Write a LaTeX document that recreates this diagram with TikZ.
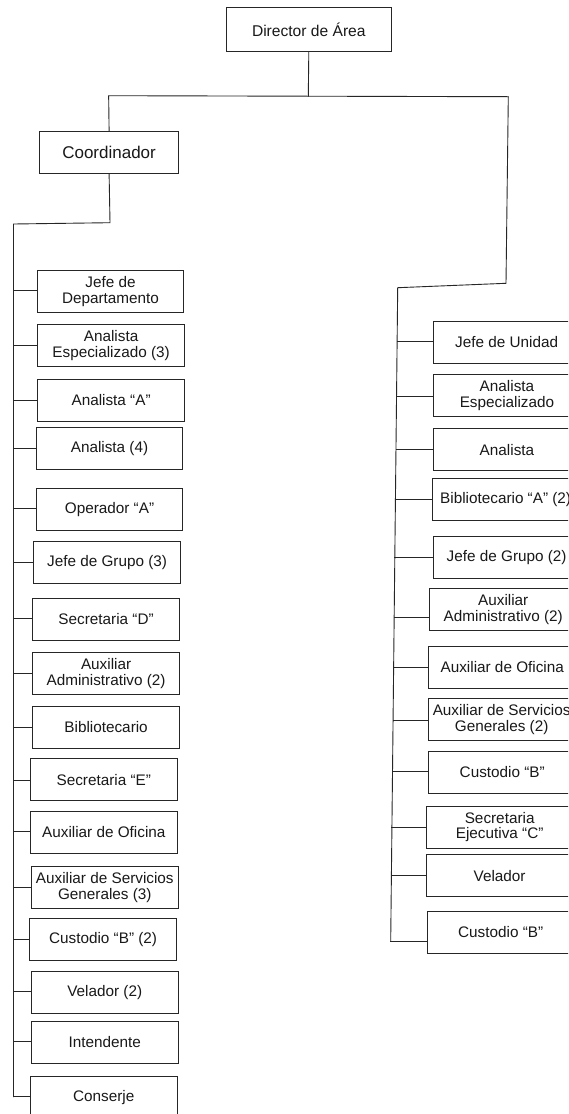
\documentclass[tikz,border=0pt]{standalone}
\usepackage{fontspec}
\setmainfont{Liberation Sans}
\usetikzlibrary{calc}
\tikzset{
  post/.style={draw=black!85, line width=0.9pt, fill=white,
    minimum width=146.7pt, minimum height=42pt, inner sep=0pt,
    anchor=north west, align=center, text=black!90,
    font=\fontsize{15.3}{15.5}\selectfont},
  link/.style={draw=black!85, line width=0.9pt, line cap=rect, line join=miter},
}
\begin{document}
\begin{tikzpicture}[x=1pt,y=-1pt]
\clip (0,0) rectangle (568,1114);
\fill[white] (0,0) rectangle (568,1114);

% top levels
\node[post, minimum width=165.3pt, minimum height=43.4pt,
      font=\fontsize{15.6}{16}\selectfont] (dir) at (225.7,7.3) {Director de Área};
\node[post, minimum width=139.3pt, minimum height=42pt,
      font=\fontsize{17}{18}\selectfont] (cdr) at (39,130.7) {Coordinador};

% left column of posts
\foreach \n/\x/\t/\c/\txt in {
  1/36.7/270/290.7/{Jefe de\\Departamento},
  2/37.3/324.3/345/{Analista\\Especializado (3)},
  3/37.3/379/400.3/{Analista “A”},
  4/35.7/426.7/448.3/{Analista (4)},
  5/35.7/487.7/508.3/{Operador “A”},
  6/33.3/541/562.5/{Jefe de Grupo (3)},
  7/32.3/597.7/618.3/{Secretaria “D”},
  8/32.3/652.3/673.3/{Auxiliar\\Administrativo (2)},
  9/32.3/706/727.3/{Bibliotecario},
  10/30/758.3/780/{Secretaria “E”},
  11/30/810.7/831.7/{Auxiliar de Oficina},
  12/31/866/887.3/{Auxiliar de Servicios\\Generales (3)},
  13/29.3/918.3/939/{Custodio “B” (2)},
  14/31/970.7/991.7/{Velador (2)},
  15/31/1021/1041.7/{Intendente},
  16/30/1076/1096.7/{Conserje}}
{
  \node[post] (l\n) at (\x,\t) {\txt};
  \coordinate (lj\n) at (13.5,\c);
  \draw[link] (lj\n) -- (lj\n -| l\n.west);
}

% trunk lines
\coordinate (dj) at (308.3,96.2);
\coordinate (tl) at (108.65,95.7);
\coordinate (tr) at (508.3,96.7);
\coordinate (rk) at (506,283.3);
\coordinate (rt) at (397.7,287.7);
\coordinate (rb) at (390.7,941);
\coordinate (ck) at (110,222.7);
\coordinate (lt) at (13.5,224);

\draw[link] (dir.south) -- (dj);
\draw[link] (cdr.north) -- (tl) -- (tr) -- (rk) -- (rt) -- (rb);
\draw[link] (cdr.south) -- (ck) -- (lt) -- (lj16);

% right column of posts
\foreach \n/\x/\t/\c/\txt in {
  1/432.7/321/341.7/{Jefe de Unidad},
  2/433/374.3/396/{Analista\\Especializado},
  3/433/428.3/449/{Analista},
  4/431.7/478.3/499.3/{Bibliotecario “A” (2)},
  5/432.7/535.7/557.3/{Jefe de Grupo (2)},
  6/429.3/588.3/617.3/{Auxiliar\\Administrativo (2)},
  7/428.3/646/667.3/{Auxiliar de Oficina},
  8/427.7/698.3/720/{Auxiliar de Servicios\\Generales (2)},
  9/428.3/750.7/771.7/{Custodio “B”},
  10/425.7/805.7/827.3/{Secretaria\\Ejecutiva “C”},
  11/425.7/854.3/875/{Velador},
  12/426.7/910.7/941/{Custodio “B”}}
{
  \node[post, minimum width=147pt] (r\n) at (\x,\t) {\txt};
  \coordinate (rj\n) at ($(rt)!{(\c-287.7)/653.3}!(rb)$);
  \draw[link] (rj\n) -- (rj\n -| r\n.west);
}
\end{tikzpicture}
\end{document}
